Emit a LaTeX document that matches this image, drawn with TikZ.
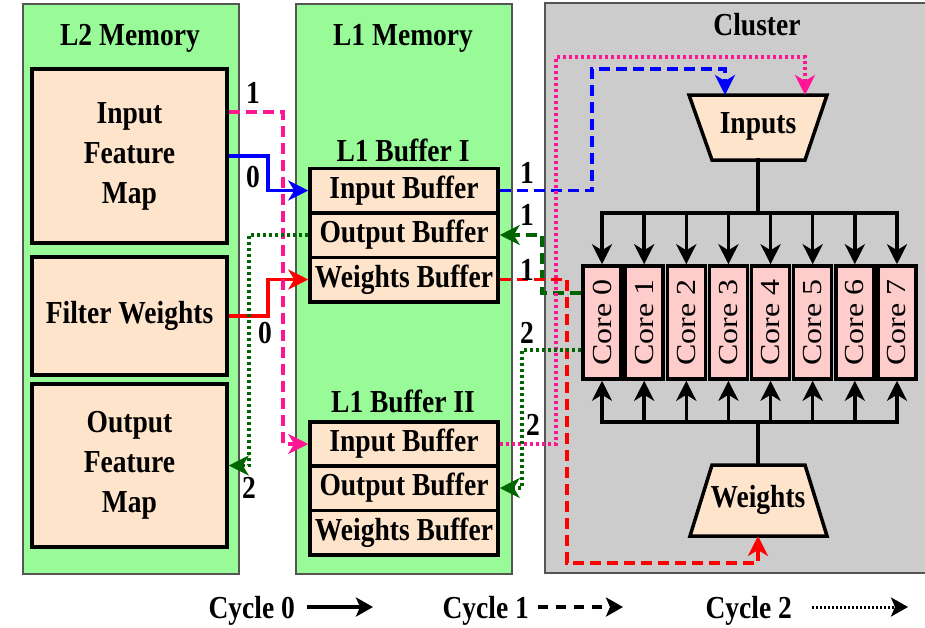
\documentclass[tikz,border=0pt]{standalone}
\usepackage{fontspec}
\setmainfont{Liberation Serif}[FakeStretch=0.86]
\newfontfamily\corefont{Liberation Serif}
\usepackage{graphicx}
\usetikzlibrary{arrows.meta}

\definecolor{memgreen}{RGB}{152,251,152}
\definecolor{peach}{RGB}{255,228,204}
\definecolor{corepink}{RGB}{255,204,204}
\definecolor{clustergray}{RGB}{204,204,204}
\definecolor{edgegray}{RGB}{85,85,85}
\definecolor{cpink}{RGB}{255,20,147}
\definecolor{cgreen}{RGB}{0,100,0}

\tikzset{
  panel/.style={draw=edgegray, line width=1.5pt, anchor=north west, inner sep=0pt},
  title/.style={font=\bfseries\fontsize{32}{34}\selectfont},
  blk/.style={draw=black, line width=3.5pt, fill=peach, align=center, inner sep=0pt,
    font=\bfseries\fontsize{32}{40}\selectfont},
  buf/.style={blk, minimum width=188pt, minimum height=44.5pt},
  core/.style={draw=black, line width=3.5pt, fill=corepink, minimum width=38pt,
    minimum height=113pt, inner sep=0pt},
  trap/.style={draw=black, line width=3.5pt, fill=peach, line join=miter},
  wire/.style={line width=3.5pt, line cap=rect},
  tip/.style={-{Stealth[length=20pt,width=20pt,inset=6pt]}},
  conn/.style={line width=3.5pt, tip},
  cyc0/.style={conn},
  cyc1/.style={conn, dash pattern=on 11pt off 6pt},
  cyc2/.style={conn, dash pattern=on 3pt off 3pt},
  num/.style={font=\bfseries\fontsize{32}{34}\selectfont},
  legtext/.style={font=\bfseries\fontsize{32}{36}\selectfont, anchor=base west},
  legarrow/.style={line width=4pt, -{Stealth[length=17pt,width=19pt,inset=4pt]}},
}

\begin{document}
\begin{tikzpicture}[x=1pt, y=-1pt]
  \useasboundingbox (0,0) rectangle (925,627);

  % memory panels and the cluster (the cluster runs off the right edge)
  \node[panel, fill=memgreen, minimum width=216pt, minimum height=570pt] (l2) at (22,3) {};
  \node[panel, fill=memgreen, minimum width=216pt, minimum height=570pt] (l1) at (295,3) {};
  \fill[clustergray] (545,3) rectangle (925,573);
  \coordinate (clNE) at (925,3);
  \coordinate (clNW) at (545,3);
  \coordinate (clSW) at (545,573);
  \coordinate (clSE) at (925,573);
  \draw[edgegray, line width=1.5pt] (clNE) -- (clNW) -- (clSW) -- (clSE);

  \node[title] (l2t) at (130,38) {L2 Memory};
  \node[title] (l1t) at (403,38) {L1 Memory};
  \node[title] (clt) at (757,25) {Cluster};

  % L2 contents
  \node[blk, minimum width=195pt, minimum height=174pt] (ifm) at (129.5,156) {Input\\Feature\\Map};
  \node[blk, minimum width=195pt, minimum height=118pt] (fw) at (129.5,316) {Filter Weights};
  \node[blk, minimum width=195pt, minimum height=163pt] (ofm) at (129.5,465.5) {Output\\Feature\\Map};

  % L1 double buffer
  \node[title] (b1t) at (403,150) {L1 Buffer I};
  \node[buf] (ib1) at (404,190.5) {Input Buffer};
  \node[buf] (ob1) at (404,235) {Output Buffer};
  \node[buf] (wb1) at (404,279.5) {Weights Buffer};

  \node[title] (b2t) at (403,401) {L1 Buffer II};
  \node[buf] (ib2) at (404,444) {Input Buffer};
  \node[buf] (ob2) at (404,488) {Output Buffer};
  \node[buf] (wb2) at (404,532.5) {Weights Buffer};

  % cluster: input and weight distributors
  \draw[trap] (689,95) -- (827,95) -- (805,160) -- (712,160) -- cycle;
  \node[title] (inp) at (758,126) {Inputs};
  \coordinate (inpBot) at (758,160);
  \coordinate (inpA) at (725,95);
  \coordinate (inpB) at (805,95);

  \draw[trap] (712,465) -- (805,465) -- (827,536) -- (690,536) -- cycle;
  \node[title] (wts) at (758,500) {Weights};
  \coordinate (wTop) at (758,465);
  \coordinate (wBot) at (758,536);

  % cores
  \foreach \i in {0,...,7}{
    \node[core] (c\i) at ({602+42.14*\i},322.5)
      {\rotatebox{90}{\scalebox{1}[0.86]{\corefont\fontsize{32}{34}\selectfont Core \i}}};
  }

  % distribution buses
  \coordinate (busT) at (758,213);
  \coordinate (busB) at (758,422);
  \draw[wire] (inpBot) -- (busT);
  \draw[wire] (c0.north |- busT) -- (c7.north |- busT);
  \draw[wire] (wTop) -- (busB);
  \draw[wire] (c0.south |- busB) -- (c7.south |- busB);
  \foreach \i in {0,...,7}{
    \draw[conn] (c\i.north |- busT) -- (c\i.north);
    \draw[conn] (c\i.south |- busB) -- (c\i.south);
  }

  % cycle 0 transfers
  \draw[cyc0, blue] (ifm.east) -| (268,190.5) -- (ib1.west);
  \draw[cyc0, red] (fw.east) -| (268,279.5) -- (wb1.west);

  % cycle 1 transfers
  \draw[cyc1, cpink] ([yshift=44pt]ifm.east) -| (283,444) -- (ib2.west);
  \draw[cyc1, blue] (ib1.east) -| (592,69) -| (inpA);
  \draw[cyc1, cgreen] ([yshift=29.5pt]c0.west) -| (542,235) -- (ob1.east);
  \draw[cyc1, red] (wb1.east) -| (567,563) -| (wBot);

  % cycle 2 transfers
  \draw[cyc2, cgreen] (ob1.west) -- (249,235) |- (ofm.east);
  \draw[cyc2, cpink] (ib2.east) -| (556,57) -| (inpB);
  \draw[cyc2, cgreen] ([yshift=-27.5pt]c0.west) -| (522,488) -- (ob2.east);

  % cycle labels
  \node[num] (n1) at (253,93) {1};
  \node[num] (n2) at (253,177) {0};
  \node[num] (n3) at (265,333) {0};
  \node[num] (n4) at (249,488) {2};
  \node[num] (n5) at (527,173) {1};
  \node[num] (n6) at (527,215) {1};
  \node[num] (n7) at (527,270) {1};
  \node[num] (n8) at (527,333) {2};
  \node[num] (n9) at (533,425) {2};

  % legend
  \node[legtext] (lg0) at (205,618) {Cycle 0};
  \coordinate (lg0s) at (307,607);
  \coordinate (lg0e) at (373,607);
  \draw[legarrow] (lg0s) -- (lg0e);

  \node[legtext] (lg1) at (439,618) {Cycle 1};
  \coordinate (lg1s) at (538,607);
  \coordinate (lg1e) at (623,607);
  \draw[legarrow, dash pattern=on 10pt off 8pt] (lg1s) -- (lg1e);

  \node[legtext] (lg2) at (702,618) {Cycle 2};
  \coordinate (lg2s) at (812,607);
  \coordinate (lg2e) at (908,607);
  \draw[legarrow, line width=3pt, dash pattern=on 2pt off 2pt] (lg2s) -- (lg2e);
\end{tikzpicture}
\end{document}
